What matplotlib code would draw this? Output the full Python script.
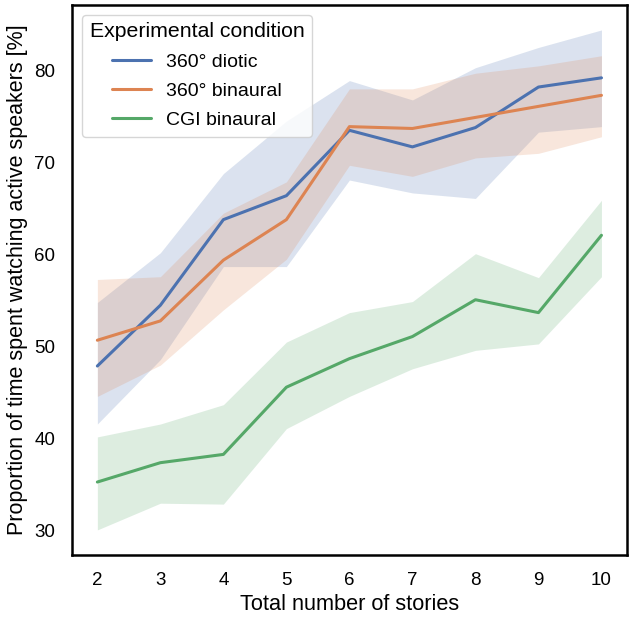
import numpy as np
import matplotlib.pyplot as plt
import seaborn as sns

# ==========================[Data]=============================

stories = [2, 3, 4, 5, 6, 7, 8, 9, 10]

diotic_mean = [47.9, 54.5, 63.8, 66.4, 73.5, 71.7, 73.8, 78.2, 79.2]
diotic_low = [41.6, 48.6, 58.7, 58.7, 68.1, 66.7, 66.1, 73.3, 73.9]
diotic_high = [54.8, 60.2, 68.8, 74.5, 78.9, 76.8, 80.3, 82.5, 84.4]

binaural_mean = [50.7, 52.8, 59.4, 63.8, 73.9, 73.7, 74.9, 76.1, 77.3]
binaural_low = [44.6, 48.0, 54.0, 59.5, 69.7, 68.5, 70.5, 71.0, 72.8]
binaural_high = [57.3, 57.6, 64.5, 67.9, 78.0, 78.0, 79.7, 80.5, 81.6]

cgi_mean = [35.3, 37.4, 38.3, 45.6, 48.7, 51.1, 55.1, 53.7, 62.1]
cgi_low = [30.1, 33.0, 32.9, 41.1, 44.6, 47.6, 49.6, 50.3, 57.6]
cgi_high = [40.2, 41.6, 43.7, 50.5, 53.7, 54.9, 60.1, 57.5, 65.9]

labels = ['360° diotic', '360° binaural', 'CGI binaural']

# ==========================[Plot]=============================

sns.set_theme(style='white')
plt.rcParams['font.family'] = ['Liberation Sans', 'DejaVu Sans']
plt.rcParams['text.color'] = 'black'
plt.rcParams['axes.labelcolor'] = 'black'
plt.rcParams['xtick.color'] = 'black'
plt.rcParams['ytick.color'] = 'black'

colors = sns.color_palette('deep')[:3]

fig = plt.figure(figsize=(6.33, 6.2), dpi=100)
ax = fig.add_axes([0.114, 0.105, 0.876, 0.887])

series = [
    (diotic_mean, diotic_low, diotic_high),
    (binaural_mean, binaural_low, binaural_high),
    (cgi_mean, cgi_low, cgi_high),
]

for (m, lo, hi), c, lab in zip(series, colors, labels):
    ax.fill_between(stories, lo, hi, color=c, alpha=0.2, linewidth=0)
    ax.plot(stories, m, color=c, linewidth=2.2, label=lab)

ax.set_xticks(stories)
ax.set_yticks([30, 40, 50, 60, 70, 80])
ax.tick_params(labelsize=13.5, pad=12, length=0)
ax.set_xlabel('Total number of stories', fontsize=15.7, labelpad=4)
ax.set_ylabel('Proportion of time spent watching active speakers [%]', fontsize=15.5, labelpad=5)

for s in ax.spines.values():
    s.set_color('black')
    s.set_linewidth(1.8)

leg = ax.legend(title='Experimental condition', loc='upper left', fontsize=14,
                title_fontsize=15.3, frameon=True, labelspacing=0.6)

plt.savefig('out.png', dpi=100)
